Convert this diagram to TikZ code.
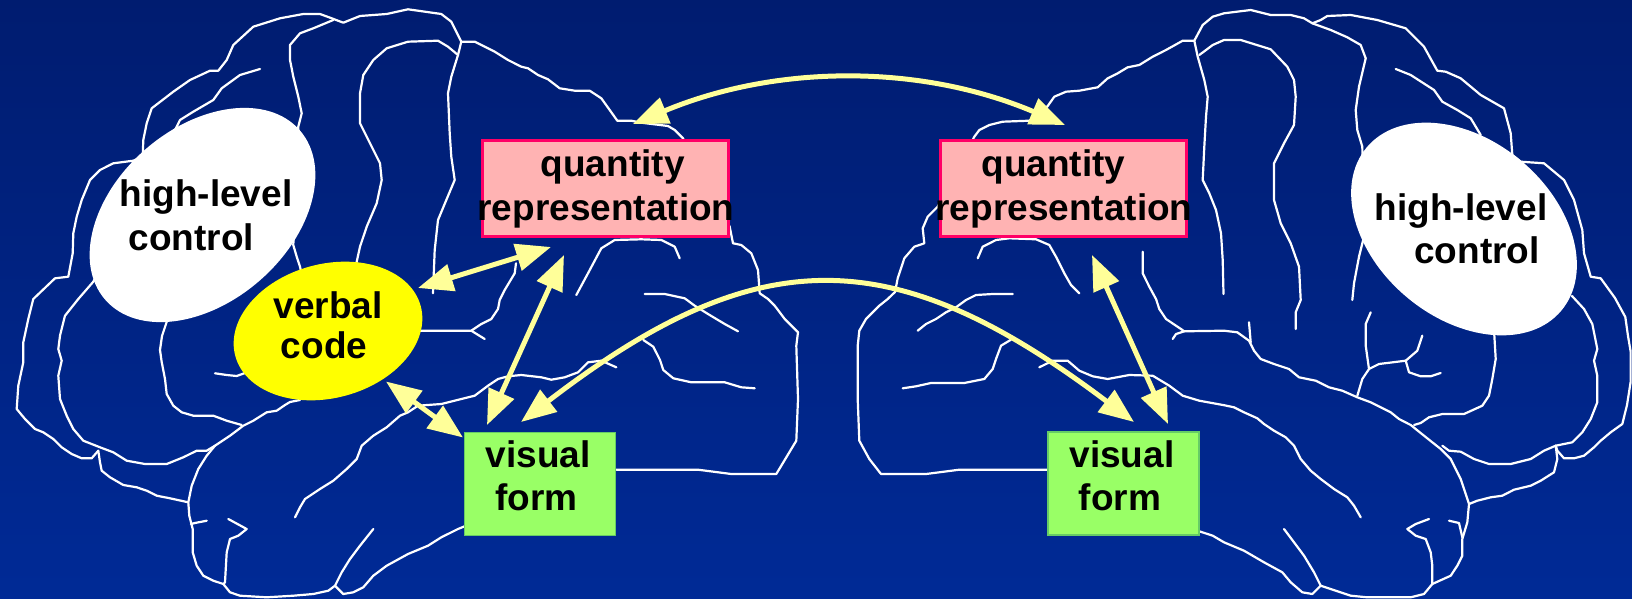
\documentclass[tikz,border=0pt]{standalone}
\usepackage{fontspec}
\setmainfont{Liberation Sans}
\usetikzlibrary{arrows.meta,shapes.geometric}
\definecolor{navytop}{RGB}{0,28,112}
\definecolor{navybot}{RGB}{0,42,150}
\definecolor{arrowyellow}{RGB}{255,255,153}
\definecolor{qtyfill}{RGB}{255,179,179}
\definecolor{qtyedge}{RGB}{255,0,102}
\definecolor{visfill}{RGB}{153,255,102}
\definecolor{visedge}{RGB}{102,204,102}
\definecolor{verbfill}{RGB}{255,255,0}

\begin{document}
\begin{tikzpicture}[x=1pt,y=-1pt,
  brain/.style={draw=white, line width=2.2pt, line join=round, line cap=round},
  link/.style={draw=arrowyellow, line width=5pt,
    arrows={Triangle[length=35pt,width=27pt]-Triangle[length=35pt,width=27pt]}},
  qbox/.style={rectangle, fill=qtyfill, draw=qtyedge, line width=3pt,
    minimum width=246pt, minimum height=96pt, inner sep=0pt},
  vbox/.style={rectangle, fill=visfill, draw=visedge, line width=1.2pt,
    minimum width=151pt, minimum height=103pt, inner sep=0pt},
  blob/.style={ellipse, inner sep=0pt},
  lbl/.style={font=\fontsize{37pt}{44pt}\selectfont\bfseries, text=black,
    inner sep=0pt, anchor=base},
]
\useasboundingbox (0,0) rectangle (1632,599);
\shade[top color=navytop, bottom color=navybot] (0,0) rectangle (1632,599);

% ---------------- left hemisphere outline ----------------
\draw[brain] (98.3,450.7)--(91.7,458.3)--(81.7,458.3)--(71.7,454)--(61.7,447.3)--(53.3,439)--(43.3,432.3)--(35,429)--(25,419)--(16.7,409)--(18.3,385.7)--(23.3,362.3)--(23.3,342.3)--(28.3,319)--(33.3,299)--(55,278.3)--(68.3,276.7)--(72.7,253.3)--(73.3,233.3)--(76.7,216.7)--(81.7,200)--(90,180)--(100,170)--(113.3,163.3)--(133.3,160.7)--(142.7,156.7)--(143.3,140)--(146.7,123.3)--(151.7,108.3)--(173.3,91.7)--(190,80)--(210,70.7)--(218.3,70.7)--(226.7,60)--(233.3,45)--(253.3,26.7)--(280,18.3)--(303.3,14)--(320,14)--(331.7,18.3)--(343.3,22.7)--(360,16)--(386.7,14)--(408,9.3)--(441.3,14)--(451.3,21.7)--(461.3,41.7)--(474.7,41.7)--(494.7,51.7)--(508,60)--(521.3,66.7)--(528,68.3)--(538,75)--(548,79.3)--(559.7,88.3)--(574.7,90.7)--(589.7,90.7)--(601.3,98.3)--(609.7,110)--(617.3,120.7)--(631.3,120.7)--(641.3,122.7)--(668,126)--(674.7,130)--(683,138.3)--(729.7,226.7)--(733,243.3)--(741.3,245)--(751.3,253.3)--(758,270)--(759.7,293.3)--(768,299)--(774.7,305.7)--(784.7,319)--(798,332.3)--(796.3,345.7)--(798,399)--(796.3,440.7)--(776.3,474)--(731.3,474)--(698,469.7)--(616.3,469.7);
\draw[brain] (260,69)--(240,75)--(221.7,88.3)--(213.3,100)--(193.3,111.7)--(180,120)--(176.7,126.7)--(93.3,281.7)--(78.3,299)--(65,315.7)--(60,335.7)--(58.3,349)--(61.7,360.7)--(58.3,375.7)--(60,399)--(66.7,415.7)--(73.3,429)--(83.3,440.7)--(100,447.3)--(113.3,452.3)--(126.7,460.7)--(145,464)--(166.7,464)--(183.3,457.3)--(196.7,450.7)--(206.7,450.7)--(215,445.7);
\draw[brain] (98.3,450.7)--(100,462.3)--(101.7,470.7)--(110,477.3)--(123.3,485)--(136.7,487.3)--(146.7,490.7)--(156.7,495.7)--(170,498.3)--(188.3,502.3);
\draw[brain] (333.3,20)--(313.3,28.3)--(300,33.3)--(290,45)--(290,60)--(293.3,76.7)--(298.3,96.7)--(301.7,113.3)--(298.3,126.7)--(293.3,245)--(296.7,256.7)--(300,266.7)--(302,276);
\draw[brain] (355.5,268)--(356.7,261.7)--(360,246.7)--(366.7,226.7)--(376.7,203.3)--(381.7,180)--(380,163.3)--(370,143.3)--(360,123.3)--(360,93.3)--(363.3,75)--(373.3,60)--(386.7,48.3)--(408,41.7)--(438,40.7)--(448,46.7)--(458,55)--(451.3,76.7)--(448,93.3)--(449.7,133.3)--(451.3,156.7)--(454.7,180)--(446.3,200)--(438,220)--(434.7,250)--(433,293.3);
\draw[brain] (461.3,41.7)--(458,55);
\draw[brain] (168,318)--(162,336)--(160,350)--(161.7,362)--(165,379)--(166.7,394)--(173.3,405.7)--(181.7,412.3)--(193.3,415.7)--(213.3,415.7)--(226.7,420.7)--(241.7,425);
\draw[brain] (215,373.3)--(226.7,375)--(236.7,376)--(245,373);
\draw[brain] (300,400)--(290,402)--(285,405)--(276.7,410.7)--(266.7,412.3)--(253.3,420.7)--(243.3,425.7)--(230,435.7)--(215,445.7)--(206.7,455.7)--(198.3,469)--(191.7,485.7)--(188.3,502.3)--(189.3,515.7)--(192.7,529)--(192.7,552.3)--(196.7,565.7)--(203.3,575.7)--(213.3,580.7)--(223.3,584)--(230,592.3)--(240,595.7)--(266.7,597.3)--(293.3,595.7)--(313.3,594)--(328.3,590.7)--(335,585.7)--(343.3,594)--(353.3,592.3)--(363.3,587.3)--(373.3,575.7)--(386.7,565.7)--(408,554)--(428,545.7)--(441.3,537.3)--(458,529)--(466,525.7);
\draw[brain] (191,524)--(195,523)--(206.7,520.7);
\draw[brain] (228.3,519)--(246.7,529)--(238.3,535.7)--(230,539)--(226.7,552.3)--(225,582.3)--(223.3,584);
\draw[brain] (373.3,529)--(360,545.7)--(350,559)--(341.7,572.3)--(335,585.7);
\draw[brain] (295,517.3)--(300,507.3)--(305,499)--(320,489)--(333.3,480.7)--(346.7,469)--(356.7,459)--(361.7,445.7)--(373.3,435.7)--(386.7,427.3)--(400,415.7)--(408,412.3)--(418,405.7)--(441.3,404)--(461.3,399)--(474.7,395.7)--(488,385.7)--(498,379)--(508,376.3)--(521.3,375)--(541.3,377.3)--(551.3,379.7)--(564.7,377.3)--(578,372.3)--(588,362.3)--(601.3,360.7)--(616.3,367.3);
\draw[brain] (418,330.7)--(471.3,330.7)--(484.7,339);
\draw[brain] (471.3,330.7)--(481.3,324)--(491.3,319)--(498,309)--(499.7,300)--(504.7,290)--(514.7,273.3)--(516,263.3);
\draw[brain] (576.3,295)--(588,273.3)--(601.3,248.3)--(614.7,240)--(641.3,239.3)--(661.3,240)--(674.7,246.7)--(679.7,258.3);
\draw[brain] (644.7,294)--(664.7,294)--(684.7,298.3)--(694.7,305.7)--(708,314)--(724.7,324)--(738,331.3);
\draw[brain] (643.3,340)--(653.3,346.7)--(660,360)--(663.3,370)--(673.3,378.3)--(691.3,382.3)--(724.7,382.3)--(741.3,387.3)--(754.7,388.3);

% ---------------- right hemisphere outline ----------------
\draw[brain] (1049,469.7)--(959.3,469.7)--(926,474)--(881,474)--(869.3,459)--(859.3,440.7)--(857.7,399)--(857.7,345.7)--(859.3,330.7)--(866,319)--(879.3,305.7)--(887.7,299)--(895,292)--(897.7,278.3)--(904.3,258.3)--(914.3,246.7)--(924.3,243.3)--(922.7,228.3)--(927.7,216.7)--(937.7,206.7)--(974.3,136.7)--(979.3,130)--(989.3,125)--(1002.7,121.7)--(1029.3,120.7)--(1041,113)--(1047.7,106)--(1054.3,96.7)--(1066,91.7)--(1079.3,90.7)--(1097.7,87.3)--(1107.7,78.3)--(1117.7,73.3)--(1127.7,67.3)--(1139.3,65)--(1152.7,56.7)--(1166,50)--(1182.7,40.7)--(1194.3,40.7)--(1202.7,25)--(1212.7,16.7)--(1224,13.3)--(1250.7,10)--(1270.7,15)--(1290.7,15)--(1304,18.3)--(1312.3,23.3)--(1320.7,20)--(1327.3,16)--(1350.7,15)--(1377.3,20)--(1405.7,28.3)--(1424,46.7)--(1437.3,70.7)--(1445.7,71.7)--(1460.7,78.3)--(1480.7,95)--(1504,108.3)--(1510.7,133.3)--(1512.3,155)--(1520.7,161.7)--(1544,163.3)--(1564,180)--(1574,200)--(1582.3,230)--(1584,253.3)--(1590.7,276.7)--(1600.7,278.3)--(1614.9,297.9)--(1625.3,317)--(1628,336)--(1630.6,351.4)--(1630.6,382)--(1627,405)--(1622.3,424)--(1610.7,432.3)--(1600.7,440.7)--(1594,447.3)--(1584,455.7)--(1574,458.3)--(1564,458.3)--(1557.3,450.7)--(1555.7,445.7);
\draw[brain] (1199.3,55)--(1212.7,45)--(1224,40)--(1240.7,40)--(1270.7,49.3)--(1287.3,66.7)--(1294,80)--(1295.7,96.7)--(1294,125)--(1284,143.3)--(1274,163.3)--(1274,200)--(1280.7,223.3)--(1290.7,243.3)--(1299,266.7)--(1300.7,300)--(1295.7,312.3)--(1295.7,329);
\draw[brain] (1194.3,40.7)--(1197.7,56.7)--(1204.3,80)--(1207.7,96.7)--(1206,116.7)--(1204.3,146.7)--(1202.7,180)--(1209.3,193.3)--(1216,210)--(1221,233.3)--(1222.7,260)--(1223.5,294);
\draw[brain] (1312.3,23.3)--(1330.7,30)--(1347.3,37.3)--(1360.7,45)--(1365.7,58.3)--(1359,86.7)--(1355.7,110)--(1357.3,130)--(1362.3,146.7)--(1364,236.7)--(1359,256.7)--(1354,283.3)--(1352.3,300);
\draw[brain] (1395.7,69)--(1410.7,75)--(1434,90)--(1442.3,101.7)--(1457.3,110)--(1470.7,118.3)--(1480.7,135);
\draw[brain] (1142.7,251.7)--(1142.7,273.3)--(1149.3,286.7)--(1156,299)--(1159.3,309)--(1166,319)--(1176,325.7)--(1184.3,331.3)--(1224,330.7)--(1237.3,332.3)--(1249,340.7)--(1254,350.7)--(1260.7,359)--(1274,364)--(1289,369)--(1299,377.3)--(1315.7,380.7)--(1329,387.3)--(1342.3,390.7)--(1357.3,397.3)--(1370.7,402.3)--(1380.7,407.3)--(1390.7,412.3)--(1399,419)--(1410.7,425)--(1424,435.7)--(1440.7,449)--(1450.7,459)--(1460.7,479)--(1469,504)--(1467.3,522.3)--(1462.3,539)--(1462.3,555.7)--(1457.3,565.7)--(1450.7,575.7)--(1432.3,584)--(1424,594)--(1410.7,597.3)--(1367.3,597.3)--(1350.7,595.7)--(1320.7,585.7)--(1312.3,594)--(1302.3,592.3)--(1290.7,582.3)--(1282.3,572.3)--(1264,562.3)--(1244,550.7)--(1224,542.3)--(1212.7,535.7)--(1197.5,530.7);
\draw[brain] (1172.7,339)--(1176,334)--(1184.3,331.3);
\draw[brain] (1249,322.3)--(1250.7,342.3);
\draw[brain] (1370.7,312.3)--(1365.7,324)--(1365.7,345.7)--(1369,369)--(1362.3,379)--(1357.3,395.7);
\draw[brain] (1369,369)--(1379,364)--(1405.7,360.7)--(1417.3,350.7)--(1422.3,335.7);
\draw[brain] (1405.7,360.7)--(1409,372.3)--(1420.7,376.3)--(1430.7,376.3)--(1440.7,373);
\draw[brain] (1494,330)--(1495.7,359)--(1492.3,379)--(1489,395.7)--(1482.3,405.7)--(1464,414)--(1442.3,414)--(1429,417.3)--(1420.7,423)--(1414,425);
\draw[brain] (1572,296)--(1584,309)--(1592.3,324)--(1597.3,349)--(1594,360.7)--(1597.3,375.7)--(1597.3,402.3)--(1590.7,419)--(1582.3,432.3)--(1572.3,442.3)--(1555.7,445.7)--(1544,450.7)--(1530.7,459)--(1510.7,464)--(1489,464)--(1474,459)--(1460.7,451.7)--(1449,450.7)--(1442.3,445.7);
\draw[brain] (1555.7,445.7)--(1557.3,459)--(1554,472.3)--(1540.7,480.7)--(1530.7,485.7)--(1514,489.7)--(1502.3,495.7)--(1490.7,497.3)--(1477.3,500.7)--(1469,504);
\draw[brain] (1039.3,367.3)--(1052.7,360.7)--(1067.7,360.7)--(1079.3,370.7)--(1092.7,376.3)--(1107.7,379)--(1129.3,375)--(1152.7,375.7)--(1169.3,385.7)--(1182.7,395.7)--(1199.3,400.7)--(1224,405.2)--(1234,407.3)--(1244,412.3)--(1257.3,418.3)--(1264,424)--(1274,430.7)--(1285.7,437.3)--(1294,445.7)--(1300.7,459)--(1310.7,470.7)--(1320.7,479)--(1334,489)--(1347.3,497.3)--(1354,505.7)--(1360.7,517.3);
\draw[brain] (1284,529)--(1294,542.3)--(1304,555.7)--(1314,572.3)--(1320.7,585.7);
\draw[brain] (1429,519)--(1415.7,524)--(1407.3,529)--(1415.7,535.7)--(1425.7,539)--(1430.7,552.3)--(1432.3,565.7)--(1432.3,584);
\draw[brain] (1449,520.7)--(1459,523)--(1462.3,537.3);
\draw[brain] (917.7,330.7)--(926,324)--(936,319)--(946,312.3)--(956,307.3)--(966,300)--(976,295)--(992.7,294)--(1012.7,294);
\draw[brain] (1011,339.7)--(1001,345.7)--(996,359)--(992.7,369)--(984.3,379)--(964.3,383)--(931,383)--(916,386.3)--(902.7,388.3);
\draw[brain] (977.7,258.3)--(982.7,246.7)--(996,240)--(1009.3,238.3)--(1036,239.3)--(1049.3,245)--(1056,256.7)--(1064.3,273.3)--(1071,285)--(1079.3,293.3);

% ---------------- regions ----------------
\node[blob, fill=white, minimum width=258pt, minimum height=174pt, rotate=41] (hlcL) at (202.5,215) {};
\node[blob, fill=white, minimum width=254pt, minimum height=178pt, rotate=-40] (hlcR) at (1464,229) {};
\node[blob, fill=verbfill, minimum width=192pt, minimum height=134pt, rotate=15] (verb) at (328,331) {};
\node[qbox] (qtyL) at (605.5,188.5) {};
\node[qbox] (qtyR) at (1063.5,188.5) {};
\node[vbox] (visL) at (540,484) {};
\node[vbox] (visR) at (1123.5,483.5) {};

% ---------------- labels ----------------
\node[lbl] (hlcL1) at (206,206.7) {high-level};
\node[lbl] (hlcL2) at (191.5,250) {control};
\node[lbl] (hlcR1) at (1461,220) {high-level};
\node[lbl] (hlcR2) at (1477,263.3) {control};
\node[lbl] (verb1) at (328,318.3) {verbal};
\node[lbl] (verb2) at (324,358.3) {code};
\node[lbl] (qtyL1) at (612.7,176.7) {quantity};
\node[lbl] (qtyL2) at (606,220) {representation};
\node[lbl] (qtyR1) at (1053.5,176.7) {quantity};
\node[lbl] (qtyR2) at (1064,220) {representation};
\node[lbl] (visL1) at (538.3,467.3) {visual};
\node[lbl] (visL2) at (536.3,510.7) {form};
\node[lbl] (visR1) at (1122,467.3) {visual};
\node[lbl] (visR2) at (1120,510.7) {form};

% ---------------- connections ----------------
\coordinate (qLtop) at (633,124);
\coordinate (qRtop) at (1065,125);
\coordinate (vLtop) at (521,422);
\coordinate (vRtop) at (1134,422);
\coordinate (verbE) at (418,288);
\coordinate (qLbl) at (551,247);
\coordinate (qLbm) at (564,255);
\coordinate (vLtl) at (487,425);
\coordinate (verbS) at (386,381.5);
\coordinate (vLlt) at (463,437.5);
\coordinate (qRbm) at (1092,255);
\coordinate (vRtr) at (1168,424);

\draw[link] (qLtop) .. controls (777,64) and (921,64) .. (qRtop);
\draw[link] (vLtop) .. controls (759,239) and (894,241) .. (vRtop);
\draw[link] (verbE) -- (qLbl);
\draw[link] (qLbm) -- (vLtl);
\draw[link] (verbS) -- (vLlt);
\draw[link] (qRbm) -- (vRtr);
\end{tikzpicture}
\end{document}
